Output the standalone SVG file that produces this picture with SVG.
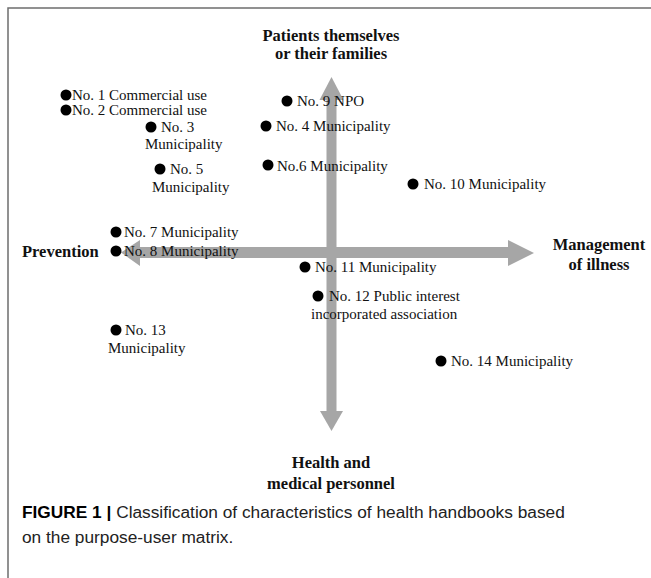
<svg xmlns="http://www.w3.org/2000/svg" width="651" height="578" viewBox="0 0 651 578">
  <style>
    .lbl { font-family: "Liberation Serif", "Times New Roman", serif; font-size: 15px; fill: #111; }
    .axis { font-family: "Liberation Serif", "Times New Roman", serif; font-size: 16.5px; font-weight: bold; fill: #111; }
    .cap { font-family: "Liberation Sans", Arial, sans-serif; font-size: 17.3px; fill: #222; }
    .dot { fill: #000; }
    .arrow { fill: #a6a6a6; }
  </style>
  <rect width="651" height="578" fill="#fff"/>
  <!-- frame -->
  <path d="M8 578 V8 H651" fill="none" stroke="#6e6e6e" stroke-width="1.5"/>

  <!-- axes -->
  <g id="connectors">
    <rect class="arrow" x="326.5" y="99" width="10" height="313"/>
    <polygon class="arrow" points="331.5,77 319.5,100 343.5,100"/>
    <polygon class="arrow" points="320,411 343,411 331.5,431"/>
    <rect class="arrow" x="139" y="247" width="370" height="11"/>
    <polygon class="arrow" points="121,252.5 140,240 140,266"/>
    <polygon class="arrow" points="508,240 508,266 534,253"/>
  </g>

  <!-- axis labels -->
  <g id="axis-top">
    <text class="axis" x="331" y="41" text-anchor="middle">Patients themselves</text>
    <text class="axis" x="331" y="59" text-anchor="middle">or their families</text>
  </g>
  <g id="axis-left">
    <text class="axis" x="22" y="257">Prevention</text>
  </g>
  <g id="axis-right">
    <text class="axis" x="599" y="250" text-anchor="middle">Management</text>
    <text class="axis" x="599" y="270" text-anchor="middle">of illness</text>
  </g>
  <g id="axis-bottom">
    <text class="axis" x="331" y="468" text-anchor="middle">Health and</text>
    <text class="axis" x="331" y="489" text-anchor="middle">medical personnel</text>
  </g>

  <!-- handbooks -->
  <g id="no1"><circle class="dot" cx="66" cy="95" r="5.5"/><text class="lbl" x="72" y="100">No. 1 Commercial use</text></g>
  <g id="no2"><circle class="dot" cx="66" cy="110" r="5.5"/><text class="lbl" x="72" y="115">No. 2 Commercial use</text></g>
  <g id="no3"><circle class="dot" cx="151" cy="127" r="5.5"/><text class="lbl" x="161" y="132">No. 3</text><text class="lbl" x="145" y="149">Municipality</text></g>
  <g id="no4"><circle class="dot" cx="266" cy="126" r="5.5"/><text class="lbl" x="276" y="131">No. 4 Municipality</text></g>
  <g id="no5"><circle class="dot" cx="160" cy="169" r="5.5"/><text class="lbl" x="170" y="174">No. 5</text><text class="lbl" x="152" y="192">Municipality</text></g>
  <g id="no6"><circle class="dot" cx="268" cy="165" r="5.5"/><text class="lbl" x="277" y="171">No.6 Municipality</text></g>
  <g id="no7"><circle class="dot" cx="116" cy="232" r="5.5"/><text class="lbl" x="124" y="237">No. 7 Municipality</text></g>
  <g id="no8"><circle class="dot" cx="116" cy="251" r="5.5"/><text class="lbl" x="124" y="256">No. 8 Municipality</text></g>
  <g id="no9"><circle class="dot" cx="287" cy="101" r="5.5"/><text class="lbl" x="297" y="106">No. 9 NPO</text></g>
  <g id="no10"><circle class="dot" cx="413" cy="184" r="5.5"/><text class="lbl" x="424" y="189">No. 10 Municipality</text></g>
  <g id="no11"><circle class="dot" cx="305" cy="267" r="5.5"/><text class="lbl" x="315" y="272">No. 11 Municipality</text></g>
  <g id="no12"><circle class="dot" cx="318" cy="296" r="5.5"/><text class="lbl" x="329" y="301">No. 12 Public interest</text><text class="lbl" x="311" y="319">incorporated association</text></g>
  <g id="no13"><circle class="dot" cx="116" cy="330" r="5.5"/><text class="lbl" x="125" y="335">No. 13</text><text class="lbl" x="108" y="353">Municipality</text></g>
  <g id="no14"><circle class="dot" cx="441" cy="361" r="5.5"/><text class="lbl" x="451" y="366">No. 14 Municipality</text></g>

  <!-- caption -->
  <g id="caption">
    <text class="cap" x="22" y="518"><tspan font-weight="bold" fill="#000">FIGURE 1 |</tspan> Classification of characteristics of health handbooks based</text>
    <text class="cap" x="22" y="543">on the purpose-user matrix.</text>
  </g>
</svg>
